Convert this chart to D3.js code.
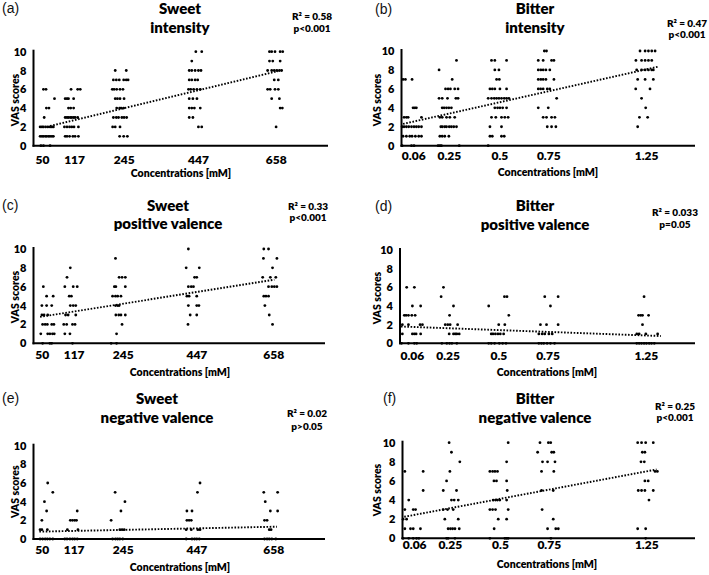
<!DOCTYPE html>
<html><head><meta charset="utf-8">
<script src="https://cdn.jsdelivr.net/npm/d3@7"></script>
<style>body{margin:0;background:#fff}svg text{font-family:Lato,"Open Sans",sans-serif}</style>
</head><body><svg id="c" width="709" height="575"></svg>
<script>
// ---------- DATA (score, [jittered concentrations]) ----------
const sweetConcs = [50, 117, 245, 447, 658];
const bitterConcs = [0.06, 0.25, 0.5, 0.75, 1.25];
const vasTicks = [0, 2, 4, 6, 8, 10];

const sweetIntensity = [
 [6,[27,34]],[5,[57]],[4,[35,42]],[3,[29]],[2,[18,23,27,33,39,45,50,54]],[1,[18,23,27,32,36,41,45,50,54]],[0,[20,27,45]],
 [6,[102,120,127]],[5,[86,91,95,109]],[4,[95,101,109]],[3,[86,91,95,100,104,109,113,120]],[2,[84,91,98,104,110,122]],[1,[86,91,98,107,113,122]],
 [8,[222,252]],[7,[217,225,233,245,252,257]],[6,[214,219,226,235,243]],[5,[222,228,235,246]],[4,[226,234,238,245]],[3,[217,225,231,240,246,253]],[2,[215,222,235]],[1,[234,245,255]],
 [10,[441,457]],[9,[430]],[8,[423,430,439,448,455]],[7,[423,430,439,446]],[6,[421,427,435,444,453]],[5,[423,433,444]],[4,[423,430,437,453]],[3,[423,433]],[2,[448,457]],
 [10,[641,647,656,670,677]],[9,[641,650,670]],[8,[636,647,654,661,668,674]],[7,[654,665]],[6,[636,643,656,665]],[5,[647,668]],[4,[670,676]],[2,[659]]
];
const bitterIntensity = [
 [7,[.008,.02,.054]],[4,[.059,.068,.076]],[3,[.013,.025,.034,.102]],[2,[.003,.013,.025,.037,.051,.064,.076,.088,.102]],[1,[.008,.025,.042,.054,.071,.088,.102]],[0,[.003,.051,.064]],
 [9,[.281]],[8,[.192]],[7,[.259]],[6,[.225,.238,.25,.272,.289]],[5,[.192,.208,.235,.278,.289]],[4,[.208,.218,.23,.242,.255]],[3,[.196,.208,.23,.247,.272]],[2,[.201,.209,.221,.23,.244,.255,.267,.281]],[1,[.196,.208,.221,.242]],[0,[.187,.196,.204,.295]],
 [9,[.46,.477,.537]],[8,[.477,.498]],[7,[.486,.5]],[6,[.452,.464,.477,.503,.537]],[5,[.443,.46,.474,.486,.498,.511,.525,.537,.549]],[4,[.477,.491,.503,.517,.537]],[3,[.46,.482,.511,.528,.545]],[2,[.452,.511]],[1,[.452,.464,.511,.525]],[0,[.443]],
 [10,[.73,.741]],[9,[.699,.724,.767,.779]],[8,[.699,.712,.724,.738,.758]],[7,[.699,.712,.724,.738,.779]],[6,[.699,.711,.724,.745,.758]],[5,[.793]],[4,[.699,.75]],[3,[.724,.741,.767,.784]],[2,[.745,.767,.789]],
 [10,[1.219,1.245,1.262,1.279,1.296]],[9,[1.198,1.227,1.245,1.262,1.279]],[8,[1.202,1.227,1.245,1.262,1.279,1.287]],[7,[1.207,1.245,1.287]],[6,[1.197,1.27]],[5,[1.227]],[4,[1.248]],[3,[1.216,1.258]],[2,[1.207]]
];
const sweetPositive = [
 [6,[27]],[5,[36,54]],[4,[23,36,50]],[3,[23,29,39]],[2,[25,32,38,50,56]],[1,[20,39,45,52,57]],[0,[25,45,50]],
 [8,[101]],[7,[92]],[6,[86,109,120]],[5,[98,104]],[4,[101,109,116]],[3,[88,95,116]],[2,[83,91,107,114]],[1,[86,100]],[0,[107]],
 [9,[225]],[7,[235,243,252]],[6,[222,226,252]],[5,[217,225,231,240]],[4,[225,231,235]],[3,[226,234,240,252]],[2,[243]],[1,[228]],[0,[213,228]],
 [10,[425]],[8,[419,455]],[7,[442,448]],[6,[425,433,439]],[5,[421,427,448]],[4,[425,448,454]],[3,[430,448]],[2,[424]],
 [10,[632,645]],[9,[631,668]],[8,[656]],[7,[629,650,665]],[6,[645,654,661,668]],[5,[632,638,645]],[4,[635]],[3,[647]],[2,[656]]
];
const bitterPositive = [
 [6,[.034,.073]],[4,[.063,.105]],[3,[.022,.031,.043,.06,.077]],[2,[.012,.043,.102,.114]],[1,[.012,.063,.073,.082,.105]],[0,[.008,.043,.073,.085]],
 [6,[.221]],[5,[.209]],[4,[.272]],[3,[.252]],[2,[.23,.243,.255,.293]],[1,[.25,.272,.281,.289,.301]],[0,[.213,.238,.252,.264,.289]],
 [5,[.531,.544]],[4,[.451]],[3,[.553]],[2,[.502,.533]],[1,[.464,.473,.485,.498,.51,.527]],[0,[.451,.464,.481,.505,.522,.539]],
 [5,[.736,.804]],[4,[.765]],[2,[.714,.745,.804]],[1,[.706,.723,.736,.757,.774]],[0,[.706,.719,.731,.748,.765,.786]],
 [5,[1.241]],[3,[1.213,1.224,1.233,1.264]],[2,[1.233]],[1,[1.204,1.216,1.25,1.31]],[0,[1.204,1.216,1.228,1.241,1.253,1.267,1.279,1.293]]
];
const sweetNegative = [
 [6,[39]],[5,[53]],[4,[30]],[3,[36]],[2,[23]],[1,[18,23,38]],[0,[18,25,32,38,45,53]],
 [3,[120]],[2,[101,107,113,118]],[1,[93,122]],[0,[86,92,100,107,113,120]],
 [5,[224]],[4,[251]],[3,[240]],[2,[213]],[1,[237,243,249]],[0,[217,225,231,237,245]],
 [6,[457]],[5,[450]],[3,[421,435]],[2,[421,427,433]],[1,[419,433,451,457]],[0,[419,435,442,448,455]],
 [5,[632,670]],[4,[636]],[3,[650,670]],[2,[634,641]],[1,[647,652]],[0,[634,641,647,654,665]]
];
const bitterNegative = [
 [7,[.012,.106]],[5,[.106]],[4,[.032]],[3,[.012,.055,.067]],[2,[.003,.021]],[1,[.012,.041,.055,.092]],[0,[.003,.032,.055,.072,.084]],
 [10,[.239]],[9,[.251]],[8,[.294]],[7,[.243]],[6,[.226]],[5,[.209,.277]],[4,[.251,.265,.286]],[3,[.209,.231,.26]],[2,[.217,.286]],[1,[.234,.246,.257,.269,.291]],[0,[.226,.234,.269]],
 [10,[.542]],[8,[.534]],[7,[.448,.462,.474,.487]],[6,[.469,.482,.534]],[5,[.537]],[4,[.465,.477,.487,.499,.534]],[3,[.448,.462,.477,.542]],[2,[.491,.534]],[1,[.47]],[0,[.448,.525,.534,.542]],
 [10,[.705,.748,.76]],[9,[.693,.765,.776]],[8,[.718,.744,.782]],[7,[.713,.776]],[5,[.713,.773]],[3,[.716]],[2,[.773]],[1,[.744,.786,.799]],[0,[.761]],
 [10,[1.206,1.226,1.247,1.286]],[9,[1.23,1.243]],[8,[1.223,1.24]],[7,[1.295,1.307]],[6,[1.243,1.26]],[5,[1.209,1.226,1.243,1.286]],[4,[1.264]],[1,[1.206,1.247]],[0,[1.247]]
];
const trendA = [[45,2.1],[665,7.95]];
const trendB = [[0.008,2.3],[1.313,8.35]];
const trendC = [[18,2.8],[661,6.75]];
const trendD = [[0.005,1.8],[1.326,0.78]];
const trendE = [[16,0.79],[668,1.32]];
const trendF = [[0.009,2.25],[1.303,7.2]];

const letters = ["(a)","(b)","(c)","(d)","(e)","(f)"];
const titles1 = ["Sweet","Bitter","Sweet","Bitter","Sweet","Bitter"];
const titles2 = ["intensity","intensity","positive valence","positive valence","negative valence","negative valence"];
const r2Labels = ["R² = 0.58","R² = 0.47","R² = 0.33","R² = 0.033","R² = 0.02","R² = 0.25"];
const pLabels = ["p<0.001","p<0.001","p<0.001","p=0.05","p>0.05","p<0.001"];

// ---------- LAYOUT ----------
const sweetTickNudge = [-10, -2.5, 0, 0, 0];
const bitterTickNudge = [0, -1.5, 0, 0, 0];
const panels = [
 {rows:sweetIntensity, trend:trendA, sweet:true, x0:33.5, x1:328, y10:51.7, y0:145.7, lx:2, ly:13, tx:180, t1y:13.5, t2y:33, rx:312, r1y:20, r2y:31.5, tickOff:14, xtx:181, xty:177, vx:15, vy:100},
 {rows:bitterIntensity, trend:trendB, sweet:false, x0:401.5, x1:695, y10:51, y0:145.7, lx:375, ly:13.5, tx:535, t1y:14, t2y:33, rx:687, r1y:27, r2y:38, tickOff:10.5, xtx:548, xty:176, vx:377, vy:100},
 {rows:sweetPositive, trend:trendC, sweet:true, x0:33.5, x1:325, y10:249, y0:343.3, lx:2, ly:210, tx:168, t1y:211, t2y:228.5, rx:308, r1y:209.5, r2y:221, tickOff:12, xtx:180, xty:375.5, vx:15, vy:297},
 {rows:bitterPositive, trend:trendD, sweet:false, x0:400, x1:695, y10:250, y0:343.3, lx:375, ly:211, tx:535, t1y:211, t2y:229.5, rx:675, r1y:216, r2y:228, tickOff:12.4, xtx:547, xty:376, vx:377, vy:298},
 {rows:sweetNegative, trend:trendE, sweet:true, x0:33.5, x1:325, y10:445.7, y0:539, lx:2, ly:403, tx:157, t1y:404, t2y:422.5, rx:307, r1y:417, r2y:430, tickOff:11, xtx:180, xty:571, vx:15, vy:491.7},
 {rows:bitterNegative, trend:trendF, sweet:false, x0:402.5, x1:695, y10:442.7, y0:538.3, lx:383, ly:403, tx:535, t1y:404, t2y:422.5, rx:675, r1y:410, r2y:421, tickOff:6, xtx:547, xty:568, vx:377, vy:490}
];

const svg = d3.select("#c");
svg.append("rect").attr("width",709).attr("height",575).attr("fill","#fff");
const W = 800;

panels.forEach((p, i) => {
  const g = svg.append("g");
  const x = d3.scaleLinear().domain(p.sweet ? [0, 800] : [0, 1.5]).range([p.x0, p.x1]);
  const y = d3.scaleLinear().domain([0, 10]).range([p.y0, p.y10]);
  const concs = p.sweet ? sweetConcs : bitterConcs;
  const nudge = p.sweet ? sweetTickNudge : bitterTickNudge;

  // y axis
  const ya = g.append("g").attr("transform", `translate(${p.x0},0)`)
    .call(d3.axisLeft(y).tickValues(vasTicks).tickSize(0).tickPadding(7));
  ya.select(".domain").remove();
  ya.selectAll("text").attr("font-size", 11).attr("font-weight", W).attr("fill", "#000");
  // x axis
  const xa = g.append("g").attr("transform", `translate(0,${p.y0})`)
    .call(d3.axisBottom(x).tickValues(concs).tickFormat(d => String(d)).tickSize(0));
  xa.select(".domain").remove();
  xa.selectAll("text").attr("y", p.tickOff).attr("dy", "0.35em").attr("dx", (d, k) => nudge[k])
    .attr("font-size", 12).attr("font-weight", W).attr("fill", "#000");
  // axis lines
  g.append("line").attr("x1", p.x0).attr("x2", p.x0).attr("y1", y(10) - 2).attr("y2", p.y0 + 1)
    .attr("stroke", "#000").attr("stroke-width", 2);
  g.append("line").attr("x1", p.x0 - 1).attr("x2", p.x1).attr("y1", p.y0).attr("y2", p.y0)
    .attr("stroke", "#000").attr("stroke-width", 2);

  // points
  const pts = p.rows.flatMap(([s, xs]) => xs.map(v => [v, s]));
  g.append("g").selectAll("circle").data(pts).join("circle")
    .attr("cx", d => x(d[0])).attr("cy", d => y(d[1])).attr("r", 1.4).attr("fill", "#000");

  // trend
  g.append("path").datum(p.trend)
    .attr("d", d3.line().x(d => x(d[0])).y(d => y(d[1])))
    .attr("fill", "none").attr("stroke", "#000").attr("stroke-width", 1.9)
    .attr("stroke-dasharray", "1.6,1.6");

  // texts
  g.append("text").attr("x", p.lx).attr("y", p.ly).text(letters[i])
    .attr("font-size", 14).style("font-family", "'Liberation Sans',Arial,sans-serif").attr("fill", "#111");
  g.append("text").attr("x", p.tx).attr("y", p.t1y).attr("text-anchor", "middle").text(titles1[i])
    .attr("font-size", 15).attr("font-weight", W).attr("fill", "#000");
  g.append("text").attr("x", p.tx).attr("y", p.t2y).attr("text-anchor", "middle").text(titles2[i])
    .attr("font-size", 15).attr("font-weight", W).attr("fill", "#000");
  g.append("text").attr("x", p.rx).attr("y", p.r1y).attr("text-anchor", "middle").text(r2Labels[i])
    .attr("font-size", 10).attr("font-weight", W).attr("fill", "#000");
  g.append("text").attr("x", p.rx).attr("y", p.r2y).attr("text-anchor", "middle").text(pLabels[i])
    .attr("font-size", 10).attr("font-weight", W).attr("fill", "#000");
  g.append("text").attr("x", p.xtx).attr("y", p.xty).attr("text-anchor", "middle").text("Concentrations [mM]")
    .attr("font-size", 10.5).attr("font-weight", W).attr("fill", "#000");
  g.append("text").attr("transform", `translate(${p.vx},${p.vy}) rotate(-90)`).attr("text-anchor", "middle")
    .attr("dy", "0.35em").text("VAS scores").attr("font-size", 10.5).attr("font-weight", W).attr("fill", "#000");
});
</script></body></html>
